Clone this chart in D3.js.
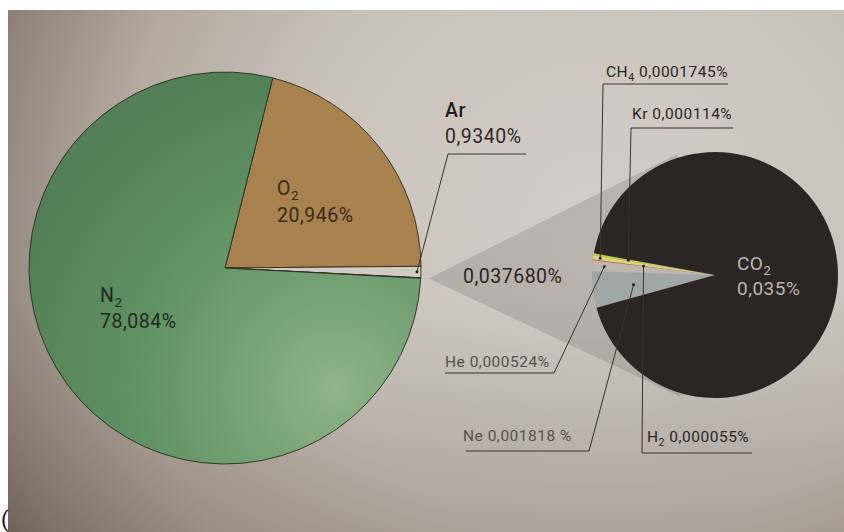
<!DOCTYPE html>
<html><head><meta charset="utf-8">
<script src="https://cdn.jsdelivr.net/npm/d3@7"></script>
<style>
html,body{margin:0;padding:0;background:#fff;}
svg{display:block;}
text{font-family:Roboto,"Liberation Sans",sans-serif;}
</style></head>
<body>
<svg id="chart" width="844" height="532"></svg>
<script>
// ---- data ----
const bigCategories = ["O", "Ar", "trace", "N"];
const bigSubs       = ["2", "", "", "2"];
const bigValues     = [20.946, 0.934, 0.037680, 78.084];
const bigLabels     = ["20,946%", "0,9340%", "0,037680%", "78,084%"];

const smallCategories = ["Ne", "He", "H", "CH", "Kr", "CO"];
const smallSubs       = ["", "", "2", "4", "", "2"];
const smallValues     = [0.001818, 0.000524, 0.000055, 0.0001745, 0.000114, 0.035];
const smallLabels     = ["0,001818 %", "0,000524%", "0,000055%", "0,0001745%", "0,000114%", "0,035%"];

// ---- styles / layout ----
const bigColors   = ["#a7824e", "#d2cbc1", "#d2cbc1", "url(#gGreen)"];
const smallColors = ["#a0a8a5", "#bdb6af", "#d35a37", "#d8d67e", "#c3c83c", "#2b2524"];
const deg = Math.PI / 180;

const svg = d3.select("#chart");
const defs = svg.append("defs");

const bg = defs.append("radialGradient").attr("id", "gBg")
  .attr("gradientUnits", "userSpaceOnUse").attr("cx", 600).attr("cy", 230).attr("r", 700);
[[0, "#d4cec8"], [0.45, "#c9c2bb"], [0.7, "#b2a89f"], [0.88, "#918579"], [1, "#6c5f52"]]
  .forEach(([o, c]) => bg.append("stop").attr("offset", o).attr("stop-color", c));
const shade = defs.append("linearGradient").attr("id", "gShade").attr("x1", 0).attr("y1", 0).attr("x2", 0).attr("y2", 1);
[[0, "rgba(70,55,45,0)"], [0.55, "rgba(70,55,45,0)"], [1, "rgba(70,55,45,0.22)"]]
  .forEach(([o, c]) => shade.append("stop").attr("offset", o).attr("stop-color", c));

// green fill, in the pie group's own (centred) coordinates
const gg = defs.append("radialGradient").attr("id", "gGreen")
  .attr("gradientUnits", "userSpaceOnUse").attr("cx", 110).attr("cy", 120).attr("r", 340);
[[0, "#90b38a"], [0.25, "#78a577"], [0.6, "#5f9163"], [1, "#527f55"]]
  .forEach(([o, c]) => gg.append("stop").attr("offset", o).attr("stop-color", c));

// photo background
svg.append("rect").attr("x", 8).attr("y", 10).attr("width", 836).attr("height", 522).attr("fill", "url(#gBg)");
svg.append("rect").attr("x", 8).attr("y", 10).attr("width", 836).attr("height", 522).attr("fill", "url(#gShade)");
svg.append("text").attr("x", 1).attr("y", 527).attr("font-size", 22).attr("fill", "#111").text("(");

// ---- big pie ----
const bigC = [225, 268], bigR = 196;
const bigPie = d3.pie().sort(null).value(d => d)
  .startAngle(14.1 * deg).endAngle(14.1 * deg + 2 * Math.PI);
const bigArcs = bigPie(bigValues);
const bigArc = d3.arc().innerRadius(0).outerRadius(bigR);

// ---- small pie ----
const smC = [715, 275], smR = 123;
const smPie = d3.pie().sort(null).value(d => d)
  .startAngle(254.5 * deg).endAngle(254.5 * deg + 2 * Math.PI);
const smArcs = smPie(smallValues);
const smArc = d3.arc().innerRadius(0).outerRadius(smR);

// zoom cone from the trace slice of the big pie to the small pie
const apex = d3.arc().innerRadius(bigR + 8).outerRadius(bigR + 8).centroid(bigArcs[2]);
const ax = bigC[0] + apex[0], ay = bigC[1] + apex[1];
const dx = smC[0] - ax, dy = smC[1] - ay, dist = Math.hypot(dx, dy);
const base = Math.atan2(dy, dx), half = Math.asin((smR + 2) / dist);
const tl = Math.sqrt(dist * dist - (smR + 2) * (smR + 2)) + 20;
svg.append("path").attr("fill", "rgba(110,98,90,0.24)")
  .attr("d", `M${ax},${ay}L${ax + tl * Math.cos(base - half)},${ay + tl * Math.sin(base - half)}L${smC[0]},${smC[1]}L${ax + tl * Math.cos(base + half)},${ay + tl * Math.sin(base + half)}Z`);

const gBig = svg.append("g").attr("transform", `translate(${bigC})`);
gBig.selectAll("path").data(bigArcs).join("path")
  .attr("d", bigArc).attr("fill", (d, i) => bigColors[i])
  .attr("stroke", "#2c2a22").attr("stroke-width", 0.9).attr("stroke-linejoin", "round");

const gSm = svg.append("g").attr("transform", `translate(${smC})`);
gSm.selectAll("path").data(smArcs).join("path")
  .attr("d", smArc).attr("fill", (d, i) => smallColors[i]);

// ---- labels ----
function symLabel(g, x, y, sym, sub, size, color, weight) {
  const t = g.append("text").attr("x", x).attr("y", y).attr("font-size", size)
    .attr("fill", color).attr("font-weight", weight || 400).attr("letter-spacing", 0.5);
  t.append("tspan").text(sym);
  if (sub) t.append("tspan").attr("font-size", size * 0.68).attr("dy", size * 0.25).text(sub);
  return t;
}
function numLabel(x, y, txt, size, color) {
  return svg.append("text").attr("x", x).attr("y", y).attr("font-size", size)
    .attr("fill", color).attr("letter-spacing", 0.5).text(txt);
}

// big pie labels
symLabel(svg, 100, 302, bigCategories[3], bigSubs[3], 19.5, "#1f2a1f");
numLabel(100, 328, bigLabels[3], 19.5, "#1f2a1f");
symLabel(svg, 277, 195, bigCategories[0], bigSubs[0], 19.5, "#3a2815");
numLabel(277, 222, bigLabels[0], 19.5, "#3a2815");
symLabel(svg, 445, 117, bigCategories[1], bigSubs[1], 19.5, "#1e1b1a", 500);
numLabel(445, 143, bigLabels[1], 19.5, "#2e2a28");
numLabel(463, 283, bigLabels[2], 19.5, "#2a2624");

// CO2 label inside small pie
symLabel(svg, 737, 270, smallCategories[5], smallSubs[5], 19, "#bcb6b1");
numLabel(737, 295, smallLabels[5], 19, "#bcb6b1");

// leader-line layout
const leaders = [
  {i: 3, tx: 606, ty: 77,  ly: 84,  x0: 603, x1: 728, cx: 603, r: 116, col: "#2a2624"},
  {i: 4, tx: 632, ty: 119, ly: 128, x0: 631, x1: 733, cx: 631, r: 88,  col: "#2a2624"},
  {i: 1, tx: 445, ty: 367, ly: 373, x0: 445, x1: 554, cx: 554, r: 111, col: "#57514c"},
  {i: 0, tx: 463, ty: 441, ly: 451, x0: 466, x1: 589, cx: 589, r: 82,  col: "#57514c"},
  {i: 2, tx: 647, ty: 442, ly: 453, x0: 642, x1: 752, cx: 642, r: 72,  col: "#2a2624"}
];
leaders.forEach(L => {
  const c = d3.arc().innerRadius(L.r).outerRadius(L.r).centroid(smArcs[L.i]);
  const px = smC[0] + c[0], py = smC[1] + c[1];
  svg.append("path").attr("fill", "none").attr("stroke", "#3a332e").attr("stroke-width", 1)
    .attr("d", `M${L.x0 === L.cx ? L.x1 : L.x0},${L.ly}L${L.cx},${L.ly}L${px},${py}`);
  svg.append("circle").attr("cx", px).attr("cy", py).attr("r", 1.4).attr("fill", "#1a1715");
  const t = symLabel(svg, L.tx, L.ty, smallCategories[L.i], smallSubs[L.i], 15.5, L.col);
  t.append("tspan").attr("dy", smallSubs[L.i] ? -15.5 * 0.25 : 0).text(" " + smallLabels[L.i]);
});

// Ar leader
{
  const c = d3.arc().innerRadius(bigR - 4).outerRadius(bigR - 4).centroid(bigArcs[1]);
  const px = bigC[0] + c[0], py = bigC[1] + c[1];
  svg.append("path").attr("fill", "none").attr("stroke", "#3a332e").attr("stroke-width", 1)
    .attr("d", `M526,154L448,154L${px},${py}`);
  svg.append("circle").attr("cx", px).attr("cy", py).attr("r", 1.4).attr("fill", "#1a1715");
}
</script>
</body></html>
